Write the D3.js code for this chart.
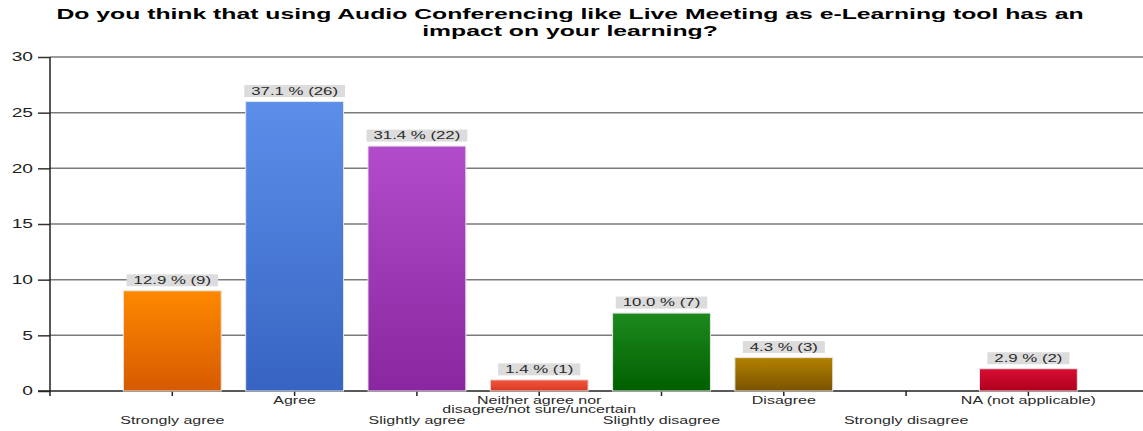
<!DOCTYPE html>
<html>
<head>
<meta charset="utf-8">
<script src="https://cdn.jsdelivr.net/npm/d3@7"></script>
<style>
  html, body { margin: 0; padding: 0; background: #fff; }
  svg { display: block; font-family: "Liberation Sans", Arial, sans-serif; }
</style>
</head>
<body>
<svg id="chart" width="1143" height="431"></svg>
<script>
// Survey answers and response counts
const categories = [
  "Strongly agree",
  "Agree",
  "Slightly agree",
  "Neither agree nor|disagree/not sure/uncertain",
  "Slightly disagree",
  "Disagree",
  "Strongly disagree",
  "NA (not applicable)"
];
const counts = [9, 26, 22, 1, 7, 3, 0, 2];
const percents = ["12.9", "37.1", "31.4", "1.4", "10.0", "4.3", "0.0", "2.9"];
const yTicks = [0, 5, 10, 15, 20, 25, 30];
const titleLines = [
  "Do you think that using Audio Conferencing like Live Meeting as e-Learning tool has an",
  "impact on your learning?"
];
// Gradient stops (top, bottom) per answer
const barColors = [
  ["#ff8800", "#d65a00"],
  ["#5b8fea", "#3764c2"],
  ["#b24ccb", "#8a269f"],
  ["#f2553a", "#d83a26"],
  ["#1d8a1d", "#005f00"],
  ["#b38200", "#7a5200"],
  ["#999999", "#777777"],
  ["#d80e32", "#b0001e"]
];

// Wide text rendering: glyphs are drawn horizontally stretched
const textStretch = 1.6;
const titleStretch = 1.65;

const svg = d3.select("#chart");
const plotLeft = 50, plotBottom = 391, plotTop = 57;
const step = 122.3;

const x = d3.scaleBand()
  .domain(categories)
  .range([plotLeft + step / 2, plotLeft + step / 2 + step * categories.length])
  .paddingInner(0.2)
  .paddingOuter(0.1);

const y = d3.scaleLinear().domain([0, 30]).range([plotBottom, plotTop]);

// Gradients
const defs = svg.append("defs");
barColors.forEach((c, i) => {
  const g = defs.append("linearGradient")
    .attr("id", "grad" + i)
    .attr("x1", 0).attr("y1", 0).attr("x2", 0).attr("y2", 1);
  g.append("stop").attr("offset", "0%").attr("stop-color", c[0]);
  g.append("stop").attr("offset", "100%").attr("stop-color", c[1]);
});

// Horizontal grid lines
svg.append("g")
  .selectAll("line")
  .data(yTicks.filter(t => t > 0))
  .join("line")
  .attr("x1", plotLeft).attr("x2", 1143)
  .attr("y1", d => y(d)).attr("y2", d => y(d))
  .attr("stroke", "#7a7a7a")
  .attr("stroke-width", 1.5);

// Y axis
const yAxis = svg.append("g")
  .attr("transform", `translate(${plotLeft},0)`)
  .call(d3.axisLeft(y).tickValues(yTicks).tickSize(12).tickPadding(4));
yAxis.select(".domain").remove();
yAxis.selectAll(".tick line").attr("stroke", "#333").attr("stroke-width", 1.5);
yAxis.selectAll(".tick text")
  .attr("x", null)
  .attr("transform", `translate(-17,0) scale(${textStretch},1)`)
  .attr("fill", "#222")
  .style("font-size", "12px")
  .style("font-family", "Liberation Sans, Arial, sans-serif");
svg.append("line")
  .attr("x1", plotLeft).attr("x2", plotLeft)
  .attr("y1", plotTop).attr("y2", plotBottom + 5)
  .attr("stroke", "#222").attr("stroke-width", 1.5);

// X axis baseline and ticks
svg.append("line")
  .attr("x1", plotLeft - 12).attr("x2", 1143)
  .attr("y1", plotBottom).attr("y2", plotBottom)
  .attr("stroke", "#222").attr("stroke-width", 1.5);
svg.append("g")
  .selectAll("line")
  .data(categories)
  .join("line")
  .attr("x1", d => x(d) + x.bandwidth() / 2)
  .attr("x2", d => x(d) + x.bandwidth() / 2)
  .attr("y1", plotBottom).attr("y2", plotBottom + 5)
  .attr("stroke", "#222").attr("stroke-width", 1.5);

// Bars
const data = categories.map((c, i) => ({ cat: c, count: counts[i], pct: percents[i], i }));
const shown = data.filter(d => d.count > 0);

svg.append("g")
  .selectAll("rect")
  .data(shown)
  .join("rect")
  .attr("x", d => x(d.cat))
  .attr("y", d => y(d.count))
  .attr("width", x.bandwidth())
  .attr("height", d => y(0) - y(d.count))
  .attr("fill", d => `url(#grad${d.i})`)
  .attr("stroke", "#e4e4e4")
  .attr("stroke-width", 1);

// Value labels with grey boxes
const lab = svg.append("g")
  .selectAll("g")
  .data(shown)
  .join("g")
  .attr("transform", d => `translate(${x(d.cat) + x.bandwidth() / 2},${y(d.count) - 10.5})`);
lab.append("text")
  .attr("text-anchor", "middle")
  .attr("dy", "0.36em")
  .attr("fill", "#2a2a2a")
  .attr("transform", `scale(${textStretch},1)`)
  .style("font-size", "10.5px")
  .text(d => `${d.pct} % (${d.count})`);
lab.each(function () {
  const g = d3.select(this);
  const w = g.select("text").node().getComputedTextLength() * textStretch;
  g.insert("rect", "text")
    .attr("x", -w / 2 - 7).attr("y", -6)
    .attr("width", w + 14).attr("height", 12)
    .attr("fill", "#dcdcdc");
});

// Category labels, staggered in two rows
const xl = svg.append("g")
  .selectAll("text")
  .data(categories)
  .join("text")
  .attr("text-anchor", "middle")
  .attr("fill", "#2a2a2a")
  .style("font-size", "10px")
  .attr("transform", (d, i) => {
    const cx = x(d) + x.bandwidth() / 2;
    const yy = i % 2 === 1 ? 404 : 424;
    return `translate(${cx},${yy}) scale(${textStretch},1)`;
  });
xl.each(function (d) {
  const parts = d.split("|");
  const t = d3.select(this);
  parts.forEach((p, k) => {
    t.append("tspan")
      .attr("x", 0)
      .attr("dy", k === 0 ? 0 : 9)
      .text(p);
  });
});

// Title
svg.append("g")
  .selectAll("text")
  .data(titleLines)
  .join("text")
  .attr("text-anchor", "middle")
  .attr("transform", (d, i) => `translate(570,${19 + i * 17}) scale(${titleStretch},1)`)
  .attr("fill", "#000")
  .style("font-size", "15px")
  .style("font-weight", "bold")
  .text(d => d);
</script>
</body>
</html>
